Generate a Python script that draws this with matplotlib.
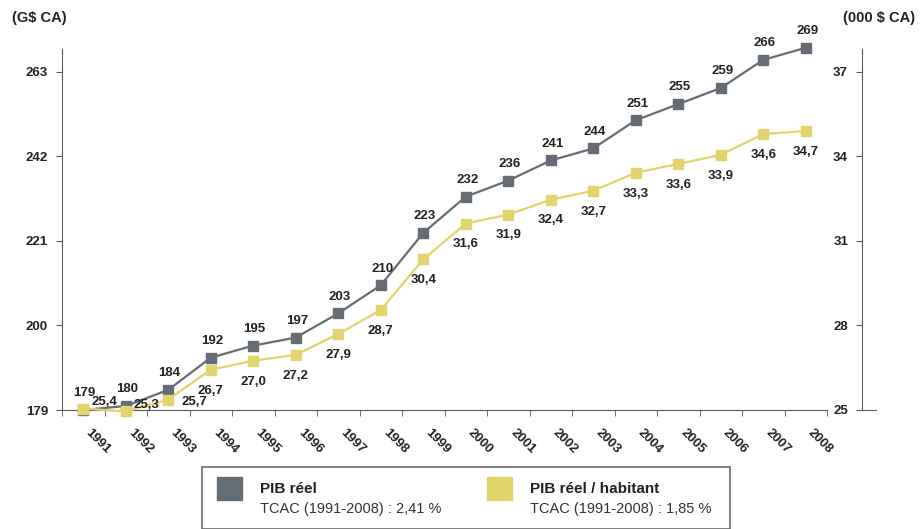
import numpy as np
import matplotlib
matplotlib.use('Agg')
import matplotlib.pyplot as plt
from matplotlib.patches import Rectangle

plt.rcParams['font.family'] = ['Liberation Sans', 'DejaVu Sans']

years = [str(y) for y in range(1991, 2009)]
pib = [179, 180, 184, 192, 195, 197, 203, 210, 223, 232, 236, 241, 244, 251, 255, 259, 266, 269]
pib_hab = [25.4, 25.3, 25.7, 26.7, 27.0, 27.2, 27.9, 28.7, 30.4, 31.6, 31.9, 32.4, 32.7,
           33.3, 33.6, 33.9, 34.6, 34.7]
left_ticks = [179, 200, 221, 242, 263]
right_labels = ['25', '28', '31', '34', '37']

gray = '#656c74'
yellow = '#e2d46c'
axis_col = '#5a5a5a'
text_col = '#222222'

W, H = 924, 529
fig = plt.figure(figsize=(W / 100, H / 100), dpi=100)

# axes frame in pixels
x0, x1 = 62, 862
y_bot, y_top = 410, 49
ax = fig.add_axes([x0 / W, 1 - y_bot / H, (x1 - x0) / W, (y_bot - y_top) / H])

n = len(years)
x = np.arange(n)
cat_w = 42.5
xmax = -0.5 + (x1 - x0) / cat_w
ax.set_xlim(-0.5, xmax)

ylim_l = (179, 268.7)
ylim_r = (25.35, 37.45)
ax.set_ylim(*ylim_l)

ax2 = ax.twinx()
ax2.set_ylim(*ylim_r)
for s in ax2.spines.values():
    s.set_visible(False)
ax2.set_yticks([])

ax.plot(x, pib, color=gray, lw=1.6, marker='s', ms=7, clip_on=False, zorder=3)
ax2.plot(x, pib_hab, color=yellow, lw=1.6, marker='s', ms=7, clip_on=False, zorder=3)

lbl_kw = dict(fontsize=9.5, fontweight='bold', color=text_col, ha='center', va='center',
              textcoords='offset points', annotation_clip=False)
for xi, v in zip(x, pib):
    ax.annotate(str(v), (xi, v), xytext=(1, 12), **lbl_kw)

hab_offsets = [(15, 5), (15, 5), (19, -2)] + [(0, -15)] * (n - 3)
for xi, v, off in zip(x, pib_hab, hab_offsets):
    ax2.annotate(f'{v:.1f}'.replace('.', ','), (xi, v), xytext=off, **lbl_kw)

# spines
for s in ['top', 'right']:
    ax.spines[s].set_visible(False)
ax.spines['left'].set_color(axis_col)
ax.spines['bottom'].set_color(axis_col)
ax.spines['bottom'].set_bounds(-0.5, n - 0.5)

ax.set_yticks(left_ticks)
ax.set_yticklabels([str(t) for t in left_ticks], fontsize=9.5, fontweight='bold', color=text_col)
ax.tick_params(axis='y', length=4, color=axis_col, pad=6)

ax.set_xticks(x)
ax.set_xticklabels(years, rotation=-45, ha='left', va='top', fontsize=9.5,
                   fontweight='bold', color=text_col)
ax.tick_params(axis='x', which='major', length=0, pad=12)
ax.set_xticks(np.arange(-0.5, n, 1), minor=True)
ax.tick_params(axis='x', which='minor', length=4, color=axis_col)

# right-hand scale
ax3 = fig.add_axes([x1 / W, 1 - y_bot / H, 14 / W, (y_bot - y_top) / H])
ax3.set_ylim(*ylim_r)
ax3.set_xlim(0, 1)
frac = [(t - ylim_l[0]) / (ylim_l[1] - ylim_l[0]) for t in left_ticks]
ax3.set_yticks([ylim_r[0] + f * (ylim_r[1] - ylim_r[0]) for f in frac])
ax3.set_yticklabels(right_labels, fontsize=9.5, fontweight='bold', color=text_col)
ax3.tick_params(axis='y', length=4, color=axis_col, pad=6)
ax3.set_xticks([])
for s in ['top', 'right']:
    ax3.spines[s].set_visible(False)
ax3.spines['left'].set_color(axis_col)
ax3.spines['bottom'].set_color(axis_col)
ax3.patch.set_alpha(0)

fig.text(12 / W, 1 - 18 / H, '(G$ CA)', fontsize=10.5, fontweight='bold', color=text_col,
         ha='left', va='center')
fig.text(843 / W, 1 - 18 / H, '(000 $ CA)', fontsize=10.5, fontweight='bold', color=text_col,
         ha='left', va='center')

# legend box
fig.patches.append(Rectangle((202 / W, 0), 528 / W, (H - 467) / H, transform=fig.transFigure,
                             fill=False, edgecolor='#6a6a6a', lw=1.2))
legend_items = [('PIB réel', 'TCAC (1991-2008) : 2,41 %', gray, 217),
                ('PIB réel / habitant', 'TCAC (1991-2008) : 1,85 %', yellow, 487)]
for title, sub, col, px in legend_items:
    fig.patches.append(Rectangle((px / W, 1 - 500 / H), 25 / W, 23 / H,
                                 transform=fig.transFigure, color=col))
    fig.text((px + 43) / W, 1 - 489 / H, title, fontsize=11, fontweight='bold',
             color=text_col, ha='left', va='center')
    fig.text((px + 43) / W, 1 - 509 / H, sub, fontsize=10.5, color='#333333',
             ha='left', va='center')

fig.savefig('out.png', dpi=100)
